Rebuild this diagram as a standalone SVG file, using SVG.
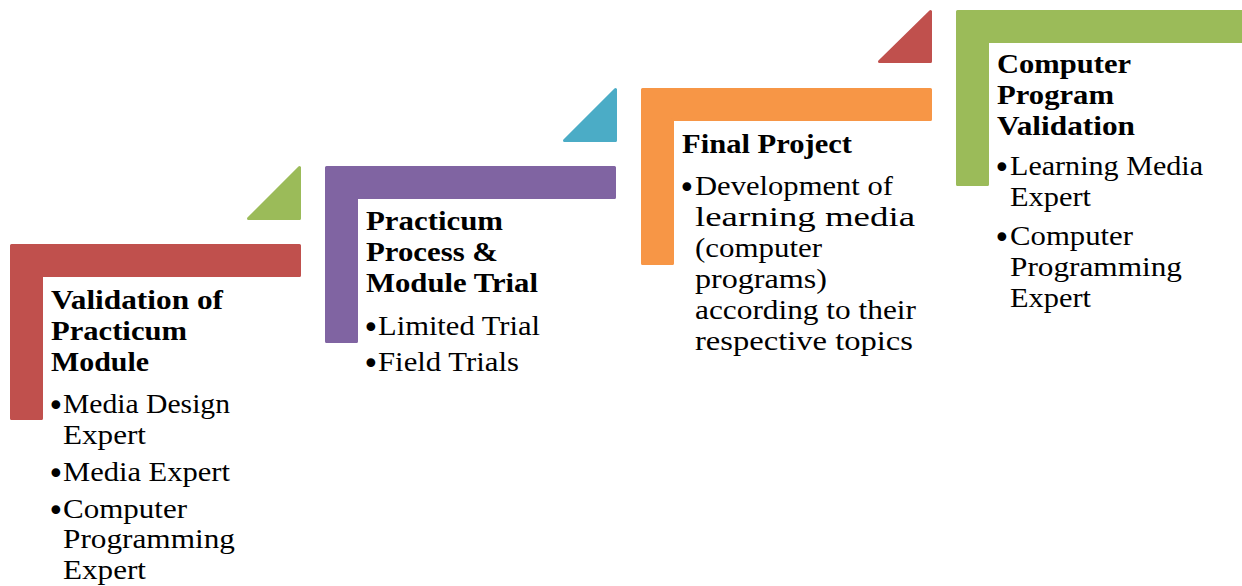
<svg xmlns="http://www.w3.org/2000/svg" width="1242" height="586" viewBox="0 0 1242 586">
<style>
.sh{stroke-width:3;stroke-linejoin:round}
.h{font-family:"Liberation Serif","Times New Roman",serif;font-weight:bold;font-size:27.5px;fill:#000}
.b{font-family:"Liberation Serif","Times New Roman",serif;font-size:27.5px;fill:#000}
.d{font-family:"DejaVu Sans",sans-serif;font-size:30px;fill:#000}
.red{fill:#C0504D;stroke:#C0504D}
.pur{fill:#8064A2;stroke:#8064A2}
.blu{fill:#4BACC6;stroke:#4BACC6}
.ora{fill:#F79646;stroke:#F79646}
.grn{fill:#9BBB59;stroke:#9BBB59}
</style>
<rect width="1242" height="586" fill="#fff"/>
<g id="connectors"></g>
<g id="node1">
<path class="sh red" d="M11.5,245.5 H299.5 V275.5 H41.5 V418.5 H11.5 Z"/>
<polygon class="sh grn" points="299.5,167.5 299.5,218.5 248.5,218.5"/>
<text class="h" x="51" y="309" textLength="172" lengthAdjust="spacingAndGlyphs">Validation of</text>
<text class="h" x="51" y="340" textLength="136" lengthAdjust="spacingAndGlyphs">Practicum</text>
<text class="h" x="51" y="371" textLength="98" lengthAdjust="spacingAndGlyphs">Module</text>
<text class="d" x="47" y="416">•</text>
<text class="b" x="63" y="413" textLength="167" lengthAdjust="spacingAndGlyphs">Media Design</text>
<text class="b" x="63" y="444" textLength="83" lengthAdjust="spacingAndGlyphs">Expert</text>
<text class="d" x="47" y="484">•</text>
<text class="b" x="63" y="481" textLength="167" lengthAdjust="spacingAndGlyphs">Media Expert</text>
<text class="d" x="47" y="521">•</text>
<text class="b" x="63" y="518" textLength="124" lengthAdjust="spacingAndGlyphs">Computer</text>
<text class="b" x="63" y="548" textLength="172" lengthAdjust="spacingAndGlyphs">Programming</text>
<text class="b" x="63" y="579" textLength="83" lengthAdjust="spacingAndGlyphs">Expert</text>
</g>
<g id="node2">
<path class="sh pur" d="M326.5,167.5 H614.5 V197.5 H356.5 V341.5 H326.5 Z"/>
<polygon class="sh blu" points="615.5,89.5 615.5,140.5 564.5,140.5"/>
<text class="h" x="366" y="230" textLength="137" lengthAdjust="spacingAndGlyphs">Practicum</text>
<text class="h" x="366" y="261" textLength="132" lengthAdjust="spacingAndGlyphs">Process &amp;</text>
<text class="h" x="366" y="292" textLength="172" lengthAdjust="spacingAndGlyphs">Module Trial</text>
<text class="d" x="362" y="338">•</text>
<text class="b" x="378" y="335" textLength="162" lengthAdjust="spacingAndGlyphs">Limited Trial</text>
<text class="d" x="362" y="374">•</text>
<text class="b" x="378" y="371" textLength="141" lengthAdjust="spacingAndGlyphs">Field Trials</text>
</g>
<g id="node3">
<path class="sh ora" d="M642.5,89.5 H930.5 V119.5 H672.5 V263.5 H642.5 Z"/>
<polygon class="sh red" points="930.5,11.5 930.5,61.5 879.5,61.5"/>
<text class="h" x="682" y="153" textLength="170" lengthAdjust="spacingAndGlyphs">Final Project</text>
<text class="d" x="678" y="198">•</text>
<text class="b" x="695" y="195" textLength="198" lengthAdjust="spacingAndGlyphs">Development of</text>
<text class="b" x="695" y="226" textLength="220" lengthAdjust="spacingAndGlyphs">learning media</text>
<text class="b" x="695" y="257" textLength="127" lengthAdjust="spacingAndGlyphs">(computer</text>
<text class="b" x="695" y="288" textLength="132" lengthAdjust="spacingAndGlyphs">programs)</text>
<text class="b" x="695" y="319" textLength="221" lengthAdjust="spacingAndGlyphs">according to their</text>
<text class="b" x="695" y="350" textLength="218" lengthAdjust="spacingAndGlyphs">respective topics</text>
</g>
<g id="node4">
<path class="sh grn" d="M957.5,11.5 H1245 V41.5 H987.5 V184.5 H957.5 Z"/>
<text class="h" x="997" y="73" textLength="134" lengthAdjust="spacingAndGlyphs">Computer</text>
<text class="h" x="997" y="104" textLength="117" lengthAdjust="spacingAndGlyphs">Program</text>
<text class="h" x="997" y="135" textLength="138" lengthAdjust="spacingAndGlyphs">Validation</text>
<text class="d" x="993" y="178">•</text>
<text class="b" x="1010" y="175" textLength="193" lengthAdjust="spacingAndGlyphs">Learning Media</text>
<text class="b" x="1010" y="206" textLength="81" lengthAdjust="spacingAndGlyphs">Expert</text>
<text class="d" x="993" y="248">•</text>
<text class="b" x="1010" y="245" textLength="123" lengthAdjust="spacingAndGlyphs">Computer</text>
<text class="b" x="1010" y="276" textLength="172" lengthAdjust="spacingAndGlyphs">Programming</text>
<text class="b" x="1010" y="307" textLength="81" lengthAdjust="spacingAndGlyphs">Expert</text>
</g>
</svg>
